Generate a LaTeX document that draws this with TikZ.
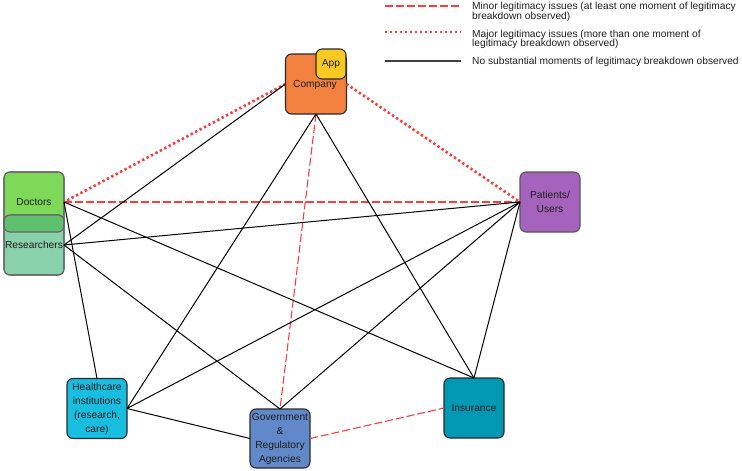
\documentclass[tikz,border=0pt]{standalone}
\usepackage{fontspec}
\setmainfont{Liberation Sans}
\definecolor{cCompany}{HTML}{F2803F}
\definecolor{cApp}{HTML}{F8C823}
\definecolor{cDoctors}{HTML}{7ED958}
\definecolor{cResearch}{HTML}{88D1AA}
\definecolor{cOverlap}{HTML}{5EBF6F}
\definecolor{cPatients}{HTML}{A563BD}
\definecolor{cHealth}{HTML}{17BEE0}
\definecolor{cGov}{HTML}{6188C8}
\definecolor{cIns}{HTML}{0098B3}
\definecolor{cRed}{HTML}{FF3B3B}
\definecolor{cBorder}{HTML}{2A2A2A}
\definecolor{cText}{HTML}{1E1E1E}
\begin{document}
\begin{tikzpicture}[x=1pt,y=-1pt,
  box/.style={draw=cBorder, line width=1.1pt, rounded corners=6pt,
    minimum width=60pt, minimum height=60pt, inner sep=0pt, outer sep=0pt,
    align=center, text=cText, font=\fontsize{10.2}{14}\selectfont},
  softbox/.style={box, draw=black!60},
  plain/.style={draw=black, line width=1pt},
  minor/.style={draw=cRed, line width=1.1pt, dash pattern=on 8pt off 3pt},
  major/.style={draw=cRed, line width=2.6pt, dash pattern=on 2.4pt off 2.6pt},
  legtext/.style={anchor=west, align=left, inner sep=0pt, text=cText,
    font=\fontsize{10.2}{9.6}\selectfont}]
\useasboundingbox (0,0) rectangle (742,471);

% nodes
\node[box, fill=cCompany, minimum width=61pt] (company) at (316,84) {};
\node[text=cText, font=\fontsize{10.2}{14}\selectfont] (companylabel) at (315,85) {Company};
\node[box, fill=cApp, minimum width=30pt, minimum height=30pt] (app) at (331,64) {App};
\node[softbox, fill=cDoctors] (doctors) at (34,202) {};
\node[softbox, fill=cResearch] (researchers) at (34,245) {};
\begin{scope}
  \clip[rounded corners=6pt] (doctors.south west) rectangle (doctors.north east);
  \fill[cOverlap, rounded corners=6pt] (researchers.south west) rectangle (researchers.north east);
\end{scope}
\draw[black!60, line width=1.1pt, rounded corners=6pt] (doctors.south west) rectangle (doctors.north east);
\draw[black!60, line width=1.1pt, rounded corners=6pt] (researchers.south west) rectangle (researchers.north east);
\node[text=cText, font=\fontsize{10.2}{14}\selectfont] (doctorslabel) at (doctors.center) {Doctors};
\node[text=cText, font=\fontsize{10.2}{14}\selectfont] (researcherslabel) at (researchers.center) {Researchers};
\node[box, draw=black!65, fill=cPatients] (patients) at (550,202) {Patients/\\Users};
\node[box, fill=cHealth] (health) at (97,408.5) {Healthcare\\institutions\\(research,\\care)};
\node[box, fill=cGov, minimum height=59pt] (gov) at (280,438.5) {Government\\\&\\Regulatory\\Agencies};
\node[box, fill=cIns] (ins) at (474,408) {Insurance};

% connectors
\draw[major] (company.west) -- (doctors.east);
\draw[major] (company.east) -- (patients.west);
\draw[minor] (doctors.east) -- (patients.west);
\draw[minor] (company.south) -- (gov.north);
\draw[minor] (gov.east) -- (ins.west);
\draw[plain] (company.west) -- (researchers.east);
\draw[plain] (company.south) -- (health.east);
\draw[plain] (company.south) -- (ins.north);
\draw[plain] (doctors.east) -- (ins.north);
\draw[plain] (doctors.east) -- (health.north);
\draw[plain] (researchers.east) -- (patients.west);
\draw[plain] (researchers.east) -- (gov.north);
\draw[plain] (patients.west) -- (health.east);
\draw[plain] (patients.west) -- (gov.north);
\draw[plain] (patients.west) -- (ins.north);
\draw[plain] (health.east) -- (gov.west);

% legend
\coordinate (m1) at (385,6);  \coordinate (m2) at (461,6);
\coordinate (j1) at (385,32); \coordinate (j2) at (461,32);
\coordinate (n1) at (385,61); \coordinate (n2) at (461,61);
\draw[minor] (m1) -- (m2);
\draw[major] (j1) -- (j2);
\draw[draw=black!75, line width=1.6pt] (n1) -- (n2);
\node[legtext] (minortext) at (472,12) {Minor legitimacy issues (at least one moment of legitimacy\\breakdown observed)};
\node[legtext] (majortext) at (472,39.5) {Major legitimacy issues (more than one moment of\\legitimacy breakdown observed)};
\node[legtext] (nonetext) at (472,62) {No substantial moments of legitimacy breakdown observed};
\end{tikzpicture}
\end{document}
